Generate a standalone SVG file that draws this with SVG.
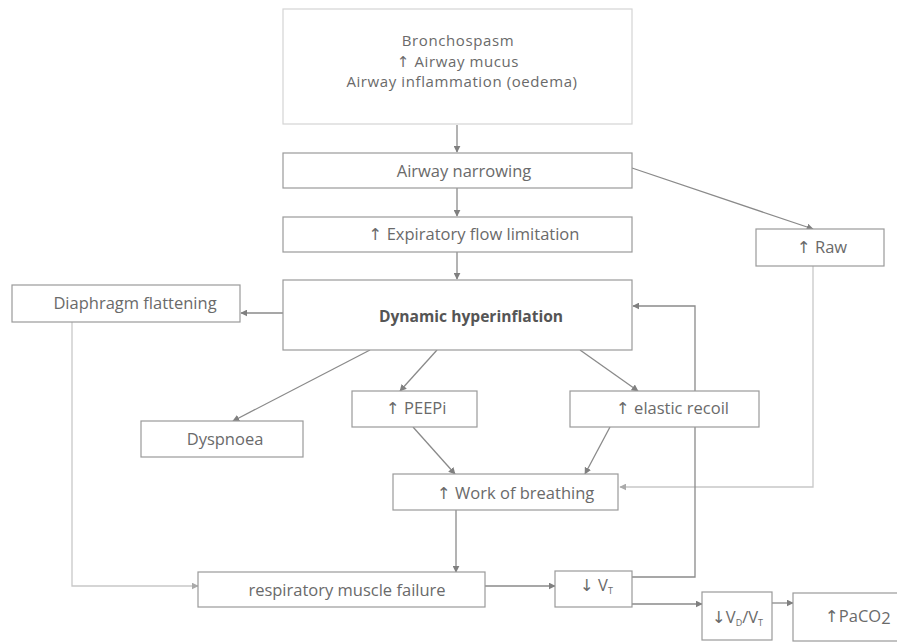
<svg xmlns="http://www.w3.org/2000/svg" width="897" height="643" viewBox="0 0 897 643">
<style>
.box{fill:#fff;stroke:#9a9a9a;stroke-width:1.2}
.lbox{fill:#fff;stroke:#d4d4d4;stroke-width:1.2}
.t{font-family:"Open Sans","DejaVu Sans",sans-serif;font-size:16.5px;fill:#6a6a6a}
.top{font-size:15px;letter-spacing:0.6px}
.c{text-anchor:middle}
.b{font-weight:bold;fill:#555;font-size:15.6px}
.ln{fill:none;stroke:#8a8a8a;stroke-width:1.3}
.lt{fill:none;stroke:#c8c8c8;stroke-width:1.3}
</style>
<defs>
<marker id="ah" viewBox="0 0 10 10" refX="9" refY="5" markerWidth="7" markerHeight="7" markerUnits="userSpaceOnUse" orient="auto">
<path d="M0,0 L10,5 L0,10 z" fill="#808080"/>
</marker>
<marker id="ahl" viewBox="0 0 10 10" refX="9" refY="5" markerWidth="7" markerHeight="7" markerUnits="userSpaceOnUse" orient="auto">
<path d="M0,0 L10,5 L0,10 z" fill="#aaaaaa"/>
</marker>
</defs>
<rect width="897" height="643" fill="#fff"/>
<g id="connectors">
<line class="ln" x1="457" y1="125" x2="457" y2="152" marker-end="url(#ah)"/>
<line class="ln" x1="457" y1="188" x2="457" y2="216" marker-end="url(#ah)"/>
<line class="ln" x1="457" y1="252" x2="457" y2="279" marker-end="url(#ah)"/>
<line class="ln" x1="632" y1="168" x2="813" y2="229" marker-end="url(#ah)"/>
<line class="ln" x1="283" y1="313" x2="241" y2="313" marker-end="url(#ah)"/>
<line class="ln" x1="370" y1="350" x2="233" y2="421" marker-end="url(#ah)"/>
<line class="ln" x1="437" y1="350" x2="400" y2="391" marker-end="url(#ah)"/>
<line class="ln" x1="580" y1="350" x2="638" y2="391" marker-end="url(#ah)"/>
<line class="ln" x1="413" y1="427" x2="455" y2="474" marker-end="url(#ah)"/>
<line class="ln" x1="610" y1="427" x2="585" y2="474" marker-end="url(#ah)"/>
<polyline class="lt" points="813,266 813,487 620,487" marker-end="url(#ahl)"/>
<polyline class="ln" points="632,577 695,577 695,306 633,306" marker-end="url(#ah)"/>
<line class="ln" x1="456" y1="510" x2="456" y2="572" marker-end="url(#ah)"/>
<polyline class="lt" points="72,322 72,586 198,586" marker-end="url(#ahl)"/>
<line class="ln" x1="485" y1="586" x2="555" y2="586" marker-end="url(#ah)"/>
<line class="ln" x1="632" y1="604" x2="702" y2="604" marker-end="url(#ah)"/>
<line class="ln" x1="772" y1="603" x2="793" y2="603" marker-end="url(#ah)"/>
</g>
<g id="n-causes">
<rect class="lbox" x="283" y="9" width="349" height="115"/>
<text class="t c top"><tspan x="458" y="46">Bronchospasm</tspan><tspan x="458" y="66.6">↑ Airway mucus</tspan><tspan x="462" y="87.2">Airway inflammation (oedema)</tspan></text>
</g>
<g id="n-narrowing">
<rect class="box" x="283" y="153" width="349" height="35"/>
<text class="t c" x="464" y="177">Airway narrowing</text>
</g>
<g id="n-expiratory">
<rect class="box" x="283" y="217" width="349" height="35"/>
<text class="t c" x="474" y="240">↑ Expiratory flow limitation</text>
</g>
<g id="n-raw">
<rect class="box" x="756" y="229" width="128" height="37"/>
<text class="t c" x="822" y="253">↑ Raw</text>
</g>
<g id="n-hyperinflation">
<rect class="box" x="283" y="280" width="349" height="70"/>
<text class="t c b" x="471" y="322">Dynamic hyperinflation</text>
</g>
<g id="n-diaphragm">
<rect class="box" x="12" y="285" width="228" height="37"/>
<text class="t c" x="135" y="309">Diaphragm flattening</text>
</g>
<g id="n-dyspnoea">
<rect class="box" x="141" y="421" width="162" height="36"/>
<text class="t c" x="225" y="445">Dyspnoea</text>
</g>
<g id="n-peepi">
<rect class="box" x="352" y="391" width="125" height="36"/>
<text class="t" x="386" y="414">↑ PEEPi</text>
</g>
<g id="n-elastic">
<rect class="box" x="570" y="391" width="189" height="36"/>
<text class="t" x="616" y="414">↑ elastic recoil</text>
</g>
<g id="n-work">
<rect class="box" x="393" y="474" width="225" height="36"/>
<text class="t" x="437" y="499">↑ Work of breathing</text>
</g>
<g id="n-failure">
<rect class="box" x="198" y="572" width="287" height="35"/>
<text class="t c" x="347" y="596">respiratory muscle failure</text>
</g>
<g id="n-vt">
<rect class="box" x="555" y="571" width="77" height="36"/>
<text class="t" x="580" y="591">↓ V<tspan font-size="9" dy="3">T</tspan></text>
</g>
<g id="n-vdvt">
<rect class="box" x="702" y="592" width="70" height="48"/>
<text class="t" x="712" y="623">↓V<tspan font-size="9" dy="3">D</tspan><tspan dy="-3">/V</tspan><tspan font-size="9" dy="3">T</tspan></text>
</g>
<g id="n-paco2">
<rect class="box" x="793" y="593" width="110" height="48"/>
<text class="t" x="825" y="622">↑PaCO<tspan dy="2">2</tspan></text>
</g>
</svg>
